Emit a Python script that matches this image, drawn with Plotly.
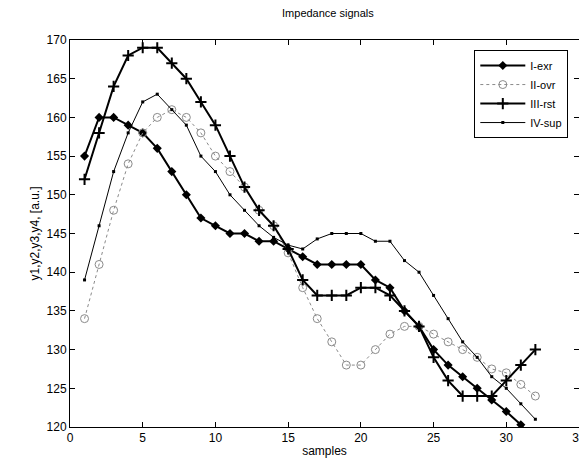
import plotly.graph_objects as go

samples = list(range(1, 33))
i_exr = [155, 160, 160, 159, 158, 156, 153, 150, 147, 146, 145, 145, 144, 144, 143, 142,
         141, 141, 141, 141, 139, 138, 135, 133, 130, 128, 126.5, 125, 123.5, 122, 120.3, 118]
ii_ovr = [134, 141, 148, 154, 158, 160, 161, 160, 158, 155, 153, 151, 148, 146, 142.5, 138,
          134, 131, 128, 128, 130, 132, 133, 133, 132, 131, 130, 129, 127.5, 127, 125.5, 124]
iii_rst = [152, 158, 164, 168, 169, 169, 167, 165, 162, 159, 155, 151, 148, 146, 143, 139,
           137, 137, 137, 138, 138, 137, 135, 133, 129, 126, 124, 124, 124, 126, 128, 130]
iv_sup = [139, 146, 153, 158, 162, 163, 161, 159, 155, 153, 150, 148, 146, 144.5, 143.5, 143,
          144.3, 145, 145, 145, 144, 144, 141.5, 140, 137, 134, 131, 129, 126.5, 125, 123, 121]

x_ticks = [0, 5, 10, 15, 20, 25, 30, 35]
y_ticks = [120, 125, 130, 135, 140, 145, 150, 155, 160, 165, 170]

fig = go.Figure()
fig.add_trace(go.Scatter(x=samples, y=i_exr, name="I-exr", mode="lines+markers",
                         line=dict(color="black", width=2),
                         marker=dict(symbol="diamond", size=7, color="black")))
fig.add_trace(go.Scatter(x=samples, y=ii_ovr, name="II-ovr", mode="lines+markers",
                         line=dict(color="#8a8a8a", width=1, dash="dot"),
                         marker=dict(symbol="circle-open", size=8, color="#8a8a8a",
                                     line=dict(width=1, color="#8a8a8a"))))
fig.add_trace(go.Scatter(x=samples, y=iii_rst, name="III-rst", mode="lines+markers",
                         line=dict(color="black", width=2),
                         marker=dict(symbol="cross-thin-open", size=8, color="black",
                                     line=dict(width=2, color="black"))))
fig.add_trace(go.Scatter(x=samples, y=iv_sup, name="IV-sup", mode="lines+markers",
                         line=dict(color="black", width=1),
                         marker=dict(symbol="square", size=3, color="black")))

axis_common = dict(showline=True, linecolor="black", linewidth=1, mirror="ticks",
                   ticks="inside", ticklen=5, tickcolor="black", showgrid=False,
                   zeroline=False, tickfont=dict(size=12, color="black"))

fig.update_layout(
    width=587, height=458,
    margin=dict(l=62, r=9, t=32, b=39),
    paper_bgcolor="white", plot_bgcolor="white",
    font=dict(family="Liberation Sans, Arial, sans-serif", color="black", size=12),
    title=dict(text="Impedance signals", x=0.545, xanchor="center", y=0.997, yanchor="top",
               font=dict(size=11)),
    xaxis=dict(range=[0, 35], tickvals=x_ticks,
               title=dict(text="samples", standoff=2, font=dict(size=12)), **axis_common),
    yaxis=dict(range=[120, 170], tickvals=y_ticks,
               title=dict(text="y1,y2,y3,y4, [a.u.]", standoff=4, font=dict(size=12)), **axis_common),
    legend=dict(x=0.979, y=0.974, xanchor="right", yanchor="top",
                bordercolor="black", borderwidth=1, bgcolor="white",
                font=dict(size=11), tracegroupgap=0, itemwidth=45),
    showlegend=True,
)

fig.write_html("out.html")
